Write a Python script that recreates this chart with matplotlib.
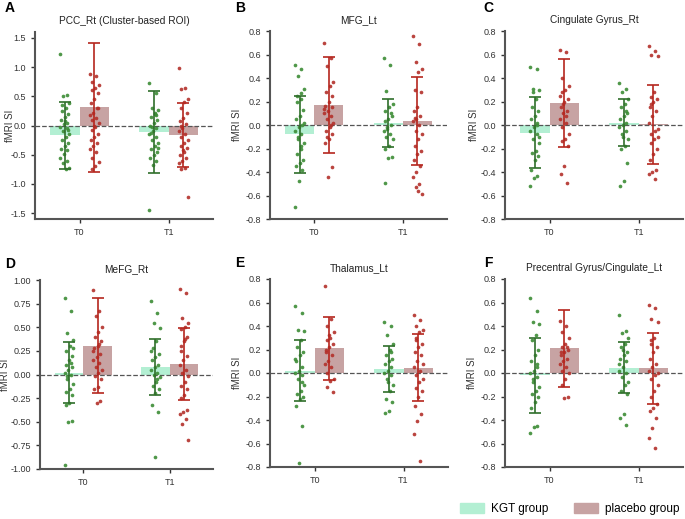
import numpy as np
import matplotlib
matplotlib.use('Agg')
import matplotlib.pyplot as plt
from matplotlib.patches import Patch

plt.rcParams['font.family'] = ['Liberation Sans', 'DejaVu Sans']

times = ['T0', 'T1']
groups = ['KGT group', 'placebo group']
letters = ['A', 'B', 'C', 'D', 'E', 'F']
titles = ['PCC_Rt (Cluster-based ROI)', 'MFG_Lt', 'Cingulate Gyrus_Rt',
          'MeFG_Rt', 'Thalamus_Lt', 'Precentral Gyrus/Cingulate_Lt']
ylims = [(-1.6, 1.6), (-0.8, 0.8), (-0.8, 0.8), (-1.0, 1.0), (-0.8, 0.8), (-0.8, 0.8)]
yticks = [[-1.5, -1.0, -0.5, 0.0, 0.5, 1.0, 1.5],
          [-0.8, -0.6, -0.4, -0.2, 0.0, 0.2, 0.4, 0.6, 0.8],
          [-0.8, -0.6, -0.4, -0.2, 0.0, 0.2, 0.4, 0.6, 0.8],
          [-1.0, -0.75, -0.5, -0.25, 0.0, 0.25, 0.5, 0.75, 1.0],
          [-0.8, -0.6, -0.4, -0.2, 0.0, 0.2, 0.4, 0.6, 0.8],
          [-0.8, -0.6, -0.4, -0.2, 0.0, 0.2, 0.4, 0.6, 0.8]]
ytick_fmt = ['%.1f', '%.1f', '%.1f', '%.2f', '%.1f', '%.1f']

# group means and SDs per panel: [KGT T0, KGT T1], [placebo T0, placebo T1]
kgt_mean = [[-0.17, -0.11], [-0.08, 0.015], [-0.065, 0.02], [0.02, 0.08], [0.02, 0.035], [-0.02, 0.045]]
kgt_sd = [[0.57, 0.70], [0.33, 0.205], [0.305, 0.20], [0.32, 0.30], [0.26, 0.195], [0.32, 0.215]]
pla_mean = [[0.31, -0.165], [0.17, 0.035], [0.19, 0.005], [0.305, 0.11], [0.21, 0.045], [0.21, 0.04]]
pla_sd = [[1.10, 0.545], [0.41, 0.375], [0.375, 0.335], [0.505, 0.38], [0.27, 0.285], [0.33, 0.30]]

# individual subject values
kgt_pts = [
    [[1.22, 0.53, 0.50, 0.38, 0.30, 0.25, 0.20, 0.15, 0.10, 0.05, 0.02, -0.02, -0.05, -0.10, -0.15,
      -0.20, -0.25, -0.30, -0.35, -0.40, -0.42, -0.48, -0.55, -0.60, -0.65, -0.72, -0.75, 0.35, -0.08, 0.08],
     [0.72, 0.55, 0.30, 0.27, 0.22, 0.15, 0.10, 0.05, 0.0, -0.05, -0.10, -0.15, -0.20, -0.25, -0.30,
      -0.35, -0.40, -0.45, -0.50, -0.55, -0.60, -0.68, -1.45, 0.18, -0.02, -0.38, 0.20, -0.12]],
    [[0.51, 0.48, 0.42, 0.31, 0.27, 0.20, 0.13, 0.08, 0.05, 0.0, -0.02, -0.05, -0.08, -0.12, -0.15,
      -0.18, -0.25, -0.30, -0.32, -0.35, -0.38, -0.48, -0.70, 0.22, -0.10, 0.02, -0.20, 0.25],
     [0.57, 0.51, 0.29, 0.18, 0.15, 0.12, 0.08, 0.05, 0.03, 0.0, -0.02, -0.05, -0.08, -0.10, -0.12,
      -0.18, -0.20, -0.27, -0.28, -0.49, 0.10, -0.03]],
    [[0.49, 0.48, 0.31, 0.30, 0.22, 0.15, 0.12, 0.08, 0.05, 0.02, -0.02, -0.05, -0.08, -0.12, -0.15,
      -0.22, -0.24, -0.26, -0.30, -0.38, -0.43, -0.45, -0.52, 0.0, 0.28, -0.10],
     [0.36, 0.31, 0.28, 0.22, 0.18, 0.15, 0.10, 0.08, 0.05, 0.02, 0.0, -0.02, -0.05, -0.08, -0.12,
      -0.18, -0.20, -0.32, -0.48, -0.52, 0.12, -0.10]],
    [[0.81, 0.67, 0.44, 0.36, 0.30, 0.25, 0.20, 0.15, 0.10, 0.08, 0.05, 0.02, 0.0, -0.05, -0.10,
      -0.15, -0.18, -0.22, -0.30, -0.32, -0.49, -0.50, -0.96, 0.12, -0.02, 0.28],
     [0.78, 0.65, 0.55, 0.49, 0.35, 0.28, 0.22, 0.18, 0.15, 0.10, 0.08, 0.05, 0.02, 0.0, -0.03,
      -0.08, -0.12, -0.15, -0.20, -0.32, -0.40, -0.87, 0.25, -0.05]],
    [[0.57, 0.51, 0.37, 0.36, 0.28, 0.22, 0.18, 0.15, 0.10, 0.05, 0.02, 0.0, -0.02, -0.05, -0.10,
      -0.15, -0.18, -0.20, -0.22, -0.28, -0.45, -0.77, 0.12, -0.08],
     [0.43, 0.40, 0.32, 0.25, 0.20, 0.15, 0.12, 0.10, 0.08, 0.05, 0.02, 0.0, -0.02, -0.05, -0.10,
      -0.15, -0.22, -0.25, -0.32, -0.34, 0.18, -0.08]],
    [[0.64, 0.53, 0.43, 0.42, 0.32, 0.28, 0.20, 0.15, 0.10, 0.05, 0.02, 0.0, -0.03, -0.08, -0.12,
      -0.15, -0.18, -0.20, -0.25, -0.30, -0.45, -0.46, -0.51, 0.08, -0.05],
     [0.49, 0.36, 0.34, 0.30, 0.25, 0.22, 0.18, 0.15, 0.12, 0.10, 0.05, 0.02, 0.0, -0.03, -0.08,
      -0.10, -0.15, -0.18, -0.35, -0.38, -0.44, 0.20, 0.08]],
]
pla_pts = [
    [[0.88, 0.85, 0.75, 0.70, 0.65, 0.60, 0.55, 0.45, 0.38, 0.30, 0.22, 0.18, 0.12, 0.10, 0.05,
      -0.02, -0.08, -0.15, -0.20, -0.25, -0.30, -0.35, -0.40, -0.45, -0.55, -0.62, -0.70, -0.75, 0.30, 0.0],
     [0.99, 0.65, 0.62, 0.45, 0.40, 0.30, 0.22, 0.12, 0.08, 0.02, -0.05, -0.10, -0.15, -0.20, -0.25,
      -0.30, -0.35, -0.38, -0.42, -0.50, -0.55, -0.60, -0.65, -0.72, -0.75, -1.22, -0.45, 0.0]],
    [[0.70, 0.57, 0.50, 0.37, 0.33, 0.28, 0.25, 0.20, 0.16, 0.15, 0.12, 0.10, 0.08, 0.05, 0.02,
      -0.02, -0.05, -0.08, -0.12, -0.15, -0.36, -0.44, 0.14, 0.0, -0.10],
     [0.76, 0.69, 0.54, 0.48, 0.45, 0.30, 0.28, 0.15, 0.12, 0.08, 0.05, 0.03, 0.0, -0.05, -0.08,
      -0.12, -0.18, -0.22, -0.25, -0.30, -0.35, -0.40, -0.44, -0.50, -0.53, -0.59, -0.56, 0.06]],
    [[0.64, 0.62, 0.40, 0.33, 0.30, 0.28, 0.22, 0.20, 0.15, 0.12, 0.10, 0.05, 0.02, -0.02, -0.08,
      -0.12, -0.14, -0.18, -0.35, -0.42, -0.49, 0.18, 0.25, 0.08],
     [0.67, 0.63, 0.60, 0.59, 0.28, 0.24, 0.22, 0.20, 0.15, 0.12, 0.08, 0.02, -0.05, -0.08, -0.10,
      -0.12, -0.15, -0.20, -0.25, -0.30, -0.38, -0.40, -0.42, -0.46, 0.18, -0.03]],
    [[0.89, 0.67, 0.62, 0.50, 0.45, 0.40, 0.35, 0.30, 0.28, 0.22, 0.18, 0.15, 0.12, 0.08, 0.05,
      0.02, -0.02, -0.05, -0.13, -0.15, -0.28, -0.30, 0.25, 0.32],
     [0.91, 0.86, 0.60, 0.55, 0.50, 0.48, 0.40, 0.35, 0.25, 0.20, 0.15, 0.10, 0.05, 0.02, -0.02,
      -0.08, -0.12, -0.15, -0.22, -0.25, -0.38, -0.40, -0.42, -0.47, -0.52, -0.69, 0.38, 0.30]],
    [[0.74, 0.46, 0.40, 0.35, 0.30, 0.28, 0.25, 0.22, 0.18, 0.15, 0.10, 0.08, 0.05, 0.0, -0.05,
      -0.07, -0.12, -0.16, 0.32, 0.20],
     [0.49, 0.45, 0.40, 0.37, 0.35, 0.30, 0.25, 0.22, 0.18, 0.15, 0.10, 0.05, 0.02, -0.02, -0.05,
      -0.08, -0.13, -0.15, -0.20, -0.28, -0.35, -0.41, -0.52, -0.75, 0.28, 0.08]],
    [[0.44, 0.40, 0.35, 0.30, 0.25, 0.22, 0.20, 0.18, 0.15, 0.12, 0.10, 0.08, 0.05, 0.02, 0.0,
      -0.05, -0.10, -0.20, -0.21, 0.18, 0.22],
     [0.58, 0.55, 0.46, 0.43, 0.30, 0.28, 0.22, 0.18, 0.12, 0.08, 0.05, 0.02, -0.02, -0.05, -0.10,
      -0.15, -0.20, -0.26, -0.30, -0.32, -0.38, -0.47, -0.55, -0.64, 0.25, 0.0]],
]

bar_colors = ['#b3efd3', '#c7a3a3']
pt_colors = ['#3c8c35', '#b3302a']
err_colors = ['#2f6e2a', '#b5261e']

# axes boxes in pixels: left, top, right, bottom
boxes = [(35, 32, 213, 219), (270, 31, 447, 219), (505, 31, 683, 219),
         (40, 280, 213, 469), (270, 279, 448, 467), (505, 279, 683, 467)]
ylabel_x = [15, 242, 479, 10, 242, 477]
letter_xy = [(10, 8), (240, 8), (488, 8), (10, 264), (240, 263), (488, 263)]
W, H = 685, 519

fig = plt.figure(figsize=(6.85, 5.19), dpi=100)

bw = 0.33
x = np.arange(len(times))


def jitter(n):
    # deterministic spread of the strip points
    k = np.arange(n)
    return ((k * 7) % 11 - 5) / 5.0 * 0.05


for p in range(6):
    l, t, r, b = boxes[p]
    ax = fig.add_axes([l / W, 1 - b / H, (r - l) / W, (b - t) / H])
    means = [kgt_mean[p], pla_mean[p]]
    sds = [kgt_sd[p], pla_sd[p]]
    pts = [kgt_pts[p], pla_pts[p]]
    for g in range(2):
        off = (g - 0.5) * bw
        ax.bar(x + off, means[g], width=bw, color=bar_colors[g], zorder=1)
        for i in range(len(times)):
            v = np.array(pts[g][i])
            ax.scatter(x[i] + off + jitter(len(v)), v, s=7, color=pt_colors[g],
                       alpha=0.9, linewidths=0, zorder=3)
        ax.errorbar(x + off, means[g], yerr=sds[g], fmt='none', ecolor=err_colors[g],
                    elinewidth=1.2, capsize=4.5, capthick=1.2, zorder=4)
    ax.axhline(0, color='#555555', linestyle='--', linewidth=0.9, zorder=2)

    ax.set_xlim(-0.5, 1.5)
    ax.set_ylim(*ylims[p])
    ax.set_yticks(yticks[p])
    ax.set_yticklabels([ytick_fmt[p] % v for v in yticks[p]])
    ax.set_xticks(x)
    ax.set_xticklabels(times)
    ax.tick_params(labelsize=6.5, colors='#333333', length=3, width=1)
    ax.set_ylabel('fMRI SI', fontsize=7, color='#333333')
    ax.yaxis.set_label_coords((ylabel_x[p] - l) / (r - l), 0.5)
    ax.set_title(titles[p], fontsize=7.3, color='#222222', pad=6)
    ax.spines['right'].set_color('none')
    ax.spines['top'].set_color('none')
    for s in ['left', 'bottom']:
        ax.spines[s].set_color('#555555')
        ax.spines[s].set_linewidth(1.5)
    fig.text(letter_xy[p][0] / W, 1 - letter_xy[p][1] / H, letters[p],
             fontsize=10, fontweight='bold', ha='center', va='center')

handles = [Patch(color=bar_colors[0]), Patch(color=bar_colors[1])]
fig.legend(handles, groups, loc='center left', bbox_to_anchor=(460 / W, 1 - 509 / H), ncol=2,
           frameon=False, fontsize=8.5, handlelength=2.0, handleheight=0.9,
           handletextpad=0.6, columnspacing=2.2, borderpad=0, borderaxespad=0)

fig.savefig('out.png', dpi=100)
plt.close()
